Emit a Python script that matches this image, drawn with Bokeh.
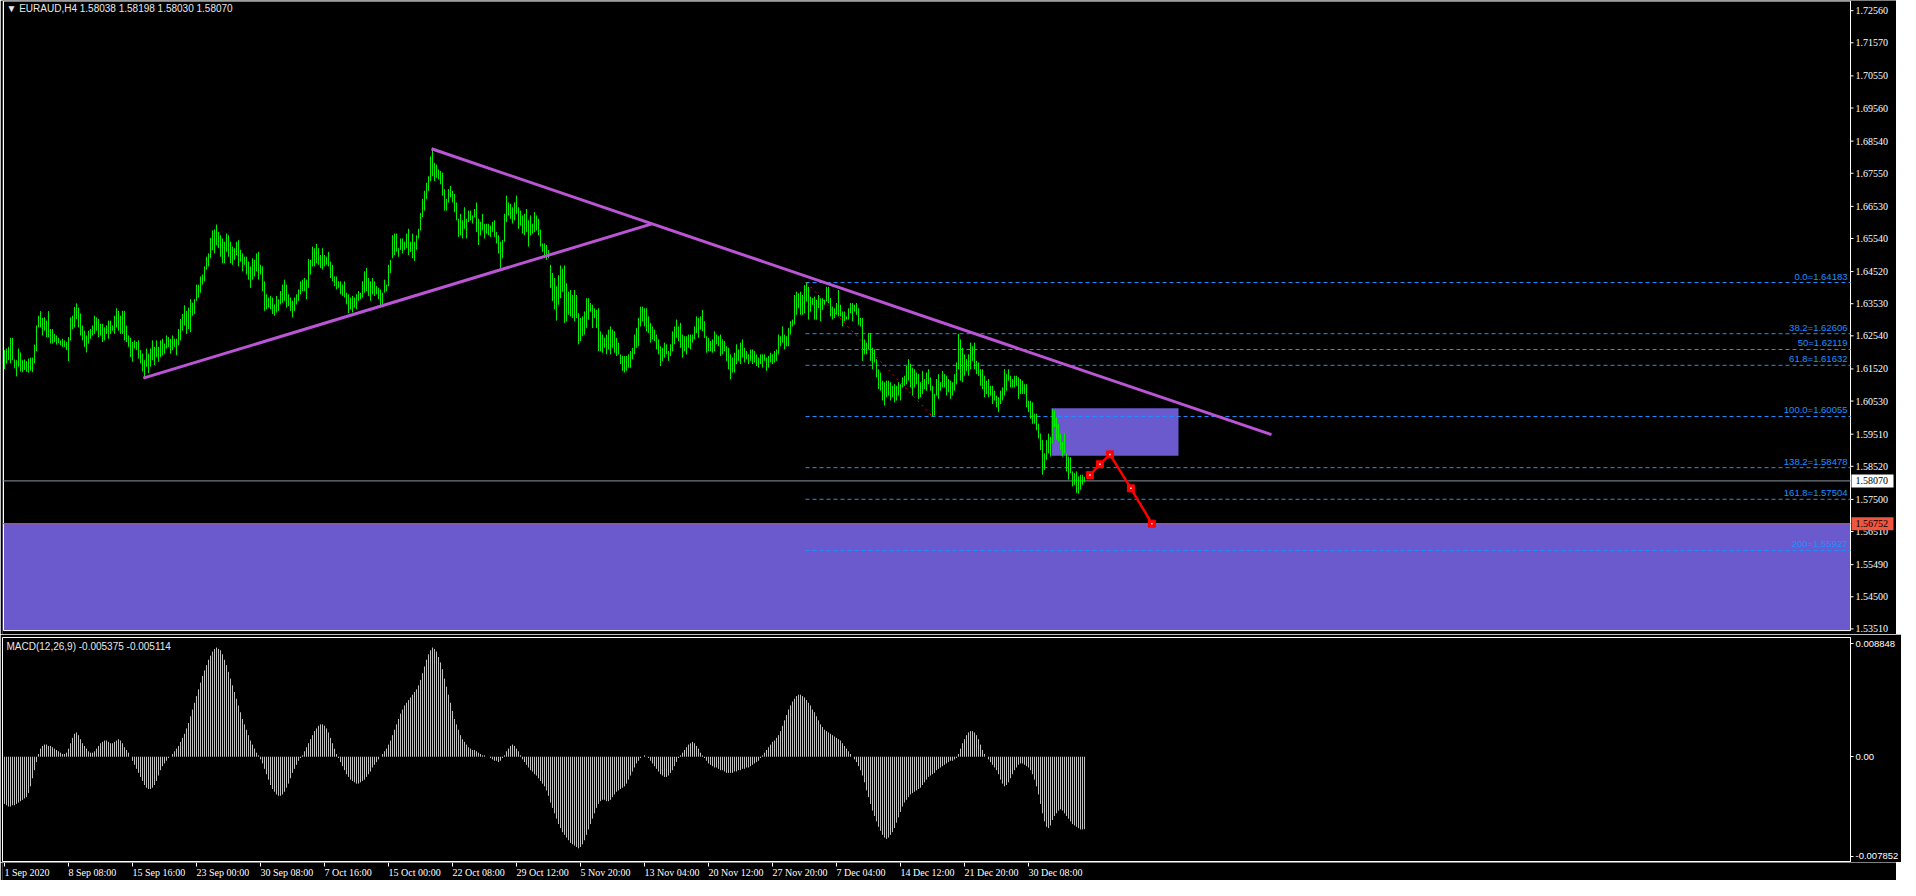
from bokeh.plotting import figure
from bokeh.layouts import column
from bokeh.models import (Range1d, FixedTicker, Label, BoxAnnotation, ColumnDataSource)
from bokeh.embed import file_html
from bokeh.resources import INLINE

# ---------------- data ----------------
symbol_title = "\u25BC EURAUD,H4  1.58038 1.58198 1.58030 1.58070"
macd_title = "MACD(12,26,9) -0.005375 -0.005114"

highs = [
1.6210,1.6215,1.6220,1.6248,1.6248,1.6181,1.6179,1.6215,1.6203,1.6179,
1.6181,1.6176,1.6184,1.6187,1.6187,1.6227,1.6286,1.6316,1.6330,1.6309,
1.6311,1.6301,1.6330,1.6275,1.6275,1.6260,1.6255,1.6248,1.6240,1.6245,
1.6240,1.6235,1.6250,1.6311,1.6316,1.6343,1.6354,1.6341,1.6323,1.6286,
1.6270,1.6255,1.6270,1.6275,1.6286,1.6316,1.6311,1.6306,1.6291,1.6291,
1.6280,1.6286,1.6301,1.6301,1.6286,1.6316,1.6339,1.6331,1.6316,1.6331,
1.6331,1.6286,1.6255,1.6248,1.6235,1.6240,1.6235,1.6240,1.6210,1.6199,
1.6179,1.6215,1.6199,1.6215,1.6240,1.6220,1.6240,1.6220,1.6240,1.6245,
1.6230,1.6255,1.6250,1.6245,1.6255,1.6245,1.6245,1.6275,1.6306,1.6321,
1.6348,1.6331,1.6341,1.6367,1.6356,1.6367,1.6412,1.6412,1.6437,1.6443,
1.6468,1.6498,1.6508,1.6556,1.6579,1.6582,1.6597,1.6574,1.6564,1.6554,
1.6544,1.6569,1.6564,1.6544,1.6529,1.6524,1.6544,1.6549,1.6519,1.6508,
1.6498,1.6498,1.6483,1.6468,1.6493,1.6488,1.6508,1.6513,1.6473,1.6468,
1.6422,1.6382,1.6372,1.6377,1.6372,1.6351,1.6377,1.6367,1.6392,1.6412,
1.6427,1.6412,1.6382,1.6372,1.6362,1.6372,1.6382,1.6397,1.6422,1.6427,
1.6432,1.6427,1.6491,1.6488,1.6529,1.6524,1.6537,1.6524,1.6503,1.6524,
1.6503,1.6498,1.6513,1.6483,1.6473,1.6437,1.6437,1.6422,1.6422,1.6412,
1.6422,1.6387,1.6382,1.6372,1.6377,1.6372,1.6382,1.6392,1.6387,1.6422,
1.6453,1.6463,1.6432,1.6422,1.6432,1.6422,1.6407,1.6402,1.6397,1.6387,
1.6427,1.6412,1.6473,1.6488,1.6564,1.6569,1.6569,1.6524,1.6554,1.6554,
1.6544,1.6569,1.6584,1.6544,1.6569,1.6544,1.6564,1.6584,1.6633,1.6676,
1.6701,1.6726,1.6746,1.6807,1.6830,1.6787,1.6782,1.6767,1.6762,1.6757,
1.6706,1.6676,1.6706,1.6716,1.6701,1.6691,1.6665,1.6615,1.6630,1.6610,
1.6650,1.6615,1.6640,1.6640,1.6625,1.6645,1.6665,1.6615,1.6605,1.6630,
1.6599,1.6599,1.6599,1.6594,1.6605,1.6610,1.6574,1.6564,1.6544,1.6549,
1.6630,1.6686,1.6665,1.6660,1.6650,1.6665,1.6686,1.6650,1.6640,1.6625,
1.6630,1.6645,1.6610,1.6625,1.6599,1.6635,1.6625,1.6615,1.6581,1.6539,
1.6539,1.6534,1.6518,1.6473,1.6448,1.6432,1.6407,1.6441,1.6471,1.6461,
1.6471,1.6416,1.6390,1.6395,1.6380,1.6395,1.6380,1.6324,1.6309,1.6314,
1.6329,1.6370,1.6370,1.6355,1.6350,1.6339,1.6334,1.6339,1.6268,1.6258,
1.6248,1.6258,1.6273,1.6283,1.6273,1.6268,1.6248,1.6233,1.6197,1.6192,
1.6192,1.6192,1.6197,1.6207,1.6217,1.6258,1.6278,1.6309,1.6344,1.6344,
1.6339,1.6339,1.6314,1.6294,1.6283,1.6273,1.6258,1.6243,1.6222,1.6217,
1.6233,1.6228,1.6207,1.6228,1.6268,1.6283,1.6304,1.6283,1.6294,1.6258,
1.6253,1.6253,1.6258,1.6258,1.6258,1.6283,1.6314,1.6309,1.6314,1.6334,
1.6299,1.6253,1.6248,1.6238,1.6243,1.6268,1.6258,1.6253,1.6258,1.6243,
1.6238,1.6222,1.6217,1.6197,1.6187,1.6202,1.6228,1.6212,1.6233,1.6243,
1.6217,1.6207,1.6197,1.6212,1.6212,1.6207,1.6197,1.6187,1.6197,1.6197,
1.6197,1.6187,1.6192,1.6202,1.6197,1.6207,1.6212,1.6258,1.6253,1.6283,
1.6258,1.6253,1.6278,1.6299,1.6304,1.6380,1.6390,1.6385,1.6390,1.6380,
1.6410,1.6418,1.6405,1.6375,1.6370,1.6375,1.6365,1.6380,1.6370,1.6370,
1.6365,1.6405,1.6405,1.6370,1.6344,1.6339,1.6355,1.6395,1.6350,1.6329,
1.6329,1.6314,1.6339,1.6355,1.6355,1.6350,1.6355,1.6339,1.6309,1.6309,
1.6243,1.6233,1.6263,1.6263,1.6217,1.6212,1.6182,1.6151,1.6141,1.6116,
1.6111,1.6116,1.6116,1.6111,1.6100,1.6105,1.6100,1.6111,1.6105,1.6126,
1.6131,1.6161,1.6182,1.6167,1.6156,1.6151,1.6141,1.6136,1.6111,1.6146,
1.6121,1.6141,1.6151,1.6126,1.6100,1.6075,1.6121,1.6136,1.6111,1.6146,
1.6136,1.6131,1.6121,1.6116,1.6111,1.6136,1.6172,1.6260,1.6243,1.6217,
1.6197,1.6182,1.6197,1.6233,1.6222,1.6233,1.6177,1.6172,1.6151,1.6151,
1.6131,1.6116,1.6121,1.6100,1.6100,1.6085,1.6070,1.6065,1.6085,1.6095,
1.6151,1.6136,1.6151,1.6131,1.6121,1.6131,1.6131,1.6126,1.6121,1.6116,
1.6105,1.6105,1.6054,1.6054,1.6049,1.6014,1.6014,1.5983,1.5953,1.5933,
1.5892,1.5933,1.5953,1.5943,1.6029,1.6024,1.6004,1.5983,1.5953,1.5928,
1.5953,1.5892,1.5882,1.5880,1.5836,1.5831,1.5836,1.5821,1.5826,1.5826,
1.58198]

lows = [
1.6152,1.6169,1.6179,1.6169,1.6179,1.6154,1.6129,1.6159,1.6144,1.6142,
1.6149,1.6143,1.6141,1.6147,1.6142,1.6169,1.6207,1.6280,1.6280,1.6255,
1.6270,1.6250,1.6250,1.6230,1.6230,1.6235,1.6227,1.6232,1.6225,1.6220,
1.6220,1.6210,1.6176,1.6240,1.6275,1.6280,1.6306,1.6280,1.6255,1.6240,
1.6220,1.6203,1.6230,1.6245,1.6255,1.6260,1.6270,1.6250,1.6255,1.6235,
1.6240,1.6260,1.6245,1.6260,1.6270,1.6260,1.6280,1.6270,1.6260,1.6260,
1.6240,1.6235,1.6220,1.6189,1.6174,1.6215,1.6210,1.6184,1.6169,1.6144,
1.6123,1.6159,1.6139,1.6159,1.6179,1.6164,1.6189,1.6174,1.6189,1.6194,
1.6199,1.6215,1.6220,1.6199,1.6210,1.6220,1.6194,1.6225,1.6240,1.6270,
1.6286,1.6260,1.6275,1.6265,1.6316,1.6321,1.6362,1.6372,1.6387,1.6412,
1.6422,1.6458,1.6468,1.6493,1.6518,1.6508,1.6534,1.6524,1.6498,1.6478,
1.6478,1.6513,1.6498,1.6478,1.6473,1.6488,1.6503,1.6468,1.6483,1.6453,
1.6473,1.6443,1.6427,1.6402,1.6427,1.6437,1.6453,1.6427,1.6443,1.6392,
1.6331,1.6336,1.6341,1.6336,1.6321,1.6316,1.6326,1.6331,1.6351,1.6356,
1.6362,1.6341,1.6346,1.6331,1.6311,1.6331,1.6351,1.6362,1.6382,1.6392,
1.6392,1.6367,1.6402,1.6443,1.6468,1.6468,1.6478,1.6473,1.6463,1.6458,
1.6468,1.6473,1.6468,1.6432,1.6422,1.6407,1.6397,1.6402,1.6382,1.6377,
1.6372,1.6351,1.6324,1.6336,1.6326,1.6341,1.6336,1.6362,1.6367,1.6372,
1.6387,1.6392,1.6377,1.6362,1.6382,1.6377,1.6382,1.6367,1.6341,1.6351,
1.6387,1.6392,1.6407,1.6448,1.6493,1.6503,1.6513,1.6498,1.6519,1.6508,
1.6519,1.6524,1.6503,1.6513,1.6493,1.6485,1.6519,1.6554,1.6579,1.6620,
1.6640,1.6676,1.6701,1.6731,1.6746,1.6731,1.6741,1.6736,1.6721,1.6686,
1.6640,1.6640,1.6665,1.6681,1.6665,1.6635,1.6610,1.6559,1.6564,1.6554,
1.6584,1.6554,1.6605,1.6610,1.6600,1.6620,1.6574,1.6534,1.6564,1.6579,
1.6554,1.6569,1.6564,1.6559,1.6574,1.6559,1.6539,1.6508,1.6463,1.6493,
1.6544,1.6605,1.6625,1.6615,1.6600,1.6610,1.6630,1.6584,1.6594,1.6569,
1.6564,1.6574,1.6529,1.6564,1.6569,1.6574,1.6579,1.6564,1.6529,1.6513,
1.6493,1.6488,1.6493,1.6402,1.6361,1.6336,1.6301,1.6350,1.6370,1.6390,
1.6294,1.6299,1.6319,1.6314,1.6309,1.6299,1.6309,1.6228,1.6238,1.6253,
1.6258,1.6278,1.6304,1.6329,1.6278,1.6309,1.6278,1.6207,1.6207,1.6202,
1.6217,1.6197,1.6212,1.6197,1.6217,1.6202,1.6192,1.6197,1.6167,1.6146,
1.6141,1.6146,1.6156,1.6156,1.6182,1.6197,1.6217,1.6222,1.6283,1.6299,
1.6283,1.6268,1.6263,1.6233,1.6243,1.6238,1.6212,1.6197,1.6161,1.6177,
1.6187,1.6197,1.6177,1.6192,1.6207,1.6228,1.6248,1.6238,1.6217,1.6187,
1.6207,1.6197,1.6217,1.6212,1.6233,1.6243,1.6263,1.6248,1.6273,1.6268,
1.6248,1.6202,1.6207,1.6207,1.6202,1.6207,1.6228,1.6222,1.6192,1.6197,
1.6207,1.6177,1.6151,1.6120,1.6141,1.6141,1.6167,1.6177,1.6167,1.6187,
1.6172,1.6182,1.6167,1.6177,1.6167,1.6172,1.6161,1.6156,1.6167,1.6156,
1.6177,1.6146,1.6156,1.6172,1.6167,1.6172,1.6177,1.6197,1.6222,1.6233,
1.6212,1.6222,1.6222,1.6258,1.6283,1.6289,1.6319,1.6339,1.6319,1.6319,
1.6324,1.6360,1.6304,1.6329,1.6350,1.6304,1.6304,1.6339,1.6299,1.6334,
1.6350,1.6360,1.6355,1.6314,1.6304,1.6309,1.6319,1.6314,1.6314,1.6283,
1.6299,1.6304,1.6304,1.6324,1.6299,1.6329,1.6319,1.6288,1.6283,1.6177,
1.6197,1.6197,1.6212,1.6177,1.6151,1.6172,1.6126,1.6090,1.6085,1.6055,
1.6039,1.6065,1.6070,1.6055,1.6065,1.6049,1.6055,1.6070,1.6055,1.6095,
1.6100,1.6105,1.6116,1.6095,1.6070,1.6095,1.6105,1.6060,1.6065,1.6075,
1.6090,1.6085,1.6105,1.6085,1.6006,1.6009,1.6070,1.6060,1.6085,1.6095,
1.6095,1.6070,1.6080,1.6060,1.6070,1.6085,1.6105,1.6151,1.6116,1.6111,
1.6131,1.6146,1.6131,1.6151,1.6177,1.6151,1.6136,1.6131,1.6100,1.6090,
1.6065,1.6075,1.6065,1.6070,1.6044,1.6055,1.6034,1.6019,1.6044,1.6055,
1.6070,1.6085,1.6116,1.6095,1.6095,1.6095,1.6100,1.6060,1.6075,1.6075,
1.6075,1.6034,1.6019,1.5999,1.5983,1.5983,1.5963,1.5938,1.5902,1.5826,
1.5841,1.5872,1.5892,1.5882,1.5923,1.5973,1.5933,1.5928,1.5902,1.5882,
1.5892,1.5836,1.5811,1.5831,1.5790,1.5795,1.5770,1.5768,1.5780,1.5795,
1.58030]

macd_main = [
-0.0035,-0.0036,-0.0037,-0.0037,-0.0036,-0.0036,-0.0035,-0.0034,-0.0033,-0.0032,
-0.0031,-0.0030,-0.0027,-0.0022,-0.0016,-0.0010,-0.0004,0.0002,0.0006,0.0008,
0.0009,0.0009,0.0008,0.0008,0.0007,0.0006,0.0005,0.0004,0.0003,0.0002,
0.0002,0.0003,0.0006,0.0010,0.0014,0.0017,0.0018,0.0016,0.0013,0.0010,
0.0008,0.0006,0.0004,0.0003,0.0003,0.0004,0.0006,0.0008,0.0010,0.0011,
0.0012,0.0012,0.0011,0.0010,0.0010,0.0011,0.0012,0.0013,0.0012,0.0010,
0.0007,0.0005,0.0003,0.0000,-0.0003,-0.0006,-0.0009,-0.0012,-0.0015,-0.0018,
-0.0021,-0.0023,-0.0024,-0.0024,-0.0023,-0.0021,-0.0018,-0.0014,-0.0010,-0.0007,
-0.0005,-0.0003,-0.0001,0.0000,0.0002,0.0004,0.0006,0.0008,0.0011,0.0014,
0.0017,0.0021,0.0025,0.0030,0.0035,0.0040,0.0045,0.0050,0.0055,0.0060,
0.0064,0.0068,0.0072,0.0075,0.0078,0.0080,0.0081,0.0080,0.0079,0.0076,
0.0072,0.0068,0.0063,0.0058,0.0053,0.0048,0.0043,0.0038,0.0033,0.0028,
0.0024,0.0020,0.0016,0.0012,0.0009,0.0006,0.0003,0.0001,-0.0002,-0.0005,
-0.0009,-0.0013,-0.0017,-0.0021,-0.0024,-0.0026,-0.0028,-0.0029,-0.0029,-0.0028,
-0.0026,-0.0023,-0.0020,-0.0016,-0.0012,-0.0009,-0.0006,-0.0003,-0.0001,0.0001,
0.0004,0.0007,0.0010,0.0013,0.0016,0.0019,0.0021,0.0023,0.0024,0.0024,
0.0023,0.0021,0.0018,0.0014,0.0010,0.0006,0.0002,-0.0001,-0.0004,-0.0007,
-0.0010,-0.0013,-0.0015,-0.0017,-0.0018,-0.0019,-0.0020,-0.0020,-0.0019,-0.0018,
-0.0017,-0.0015,-0.0013,-0.0011,-0.0008,-0.0006,-0.0004,-0.0002,0.0000,0.0002,
0.0004,0.0006,0.0009,0.0012,0.0016,0.0020,0.0024,0.0028,0.0032,0.0035,
0.0038,0.0040,0.0042,0.0044,0.0046,0.0048,0.0050,0.0053,0.0057,0.0062,
0.0067,0.0072,0.0076,0.0079,0.0081,0.0080,0.0078,0.0074,0.0070,0.0065,
0.0058,0.0052,0.0046,0.0040,0.0034,0.0028,0.0024,0.0020,0.0016,0.0013,
0.0011,0.0009,0.0007,0.0006,0.0005,0.0005,0.0004,0.0003,0.0002,0.0001,
0.0001,0.0000,0.0000,-0.0001,-0.0002,-0.0003,-0.0003,-0.0004,-0.0003,-0.0001,
0.0001,0.0004,0.0006,0.0008,0.0009,0.0008,0.0006,0.0004,0.0001,-0.0002,
-0.0004,-0.0006,-0.0008,-0.0010,-0.0011,-0.0013,-0.0014,-0.0016,-0.0018,-0.0020,
-0.0022,-0.0025,-0.0029,-0.0034,-0.0038,-0.0042,-0.0046,-0.0050,-0.0053,-0.0056,
-0.0058,-0.0060,-0.0062,-0.0064,-0.0065,-0.0066,-0.0067,-0.0068,-0.0067,-0.0065,
-0.0062,-0.0058,-0.0054,-0.0050,-0.0046,-0.0042,-0.0038,-0.0035,-0.0033,-0.0032,
-0.0032,-0.0033,-0.0033,-0.0032,-0.0030,-0.0028,-0.0026,-0.0025,-0.0024,-0.0023,
-0.0022,-0.0020,-0.0017,-0.0014,-0.0011,-0.0008,-0.0005,-0.0003,-0.0001,0.0000,
0.0001,0.0000,-0.0001,-0.0003,-0.0005,-0.0007,-0.0009,-0.0011,-0.0013,-0.0014,
-0.0015,-0.0015,-0.0014,-0.0012,-0.0010,-0.0007,-0.0004,-0.0001,0.0001,0.0003,
0.0005,0.0007,0.0009,0.0010,0.0011,0.0010,0.0008,0.0006,0.0003,0.0001,
-0.0001,-0.0003,-0.0005,-0.0006,-0.0007,-0.0008,-0.0008,-0.0009,-0.0010,-0.0010,
-0.0011,-0.0012,-0.0012,-0.0012,-0.0012,-0.0011,-0.0011,-0.0010,-0.0010,-0.0009,
-0.0009,-0.0008,-0.0008,-0.0007,-0.0006,-0.0005,-0.0004,-0.0003,-0.0001,0.0001,
0.0003,0.0005,0.0007,0.0009,0.0011,0.0012,0.0014,0.0016,0.0019,0.0023,
0.0027,0.0031,0.0035,0.0038,0.0041,0.0043,0.0045,0.0046,0.0046,0.0045,
0.0044,0.0042,0.0040,0.0038,0.0035,0.0033,0.0030,0.0027,0.0024,0.0022,
0.0020,0.0019,0.0018,0.0017,0.0016,0.0015,0.0014,0.0013,0.0012,0.0010,
0.0008,0.0006,0.0004,0.0002,0.0000,-0.0002,-0.0004,-0.0007,-0.0010,-0.0014,
-0.0019,-0.0025,-0.0030,-0.0035,-0.0040,-0.0044,-0.0048,-0.0052,-0.0055,-0.0058,
-0.0060,-0.0061,-0.0060,-0.0058,-0.0056,-0.0053,-0.0049,-0.0045,-0.0041,-0.0037,
-0.0034,-0.0032,-0.0030,-0.0028,-0.0027,-0.0026,-0.0025,-0.0024,-0.0023,-0.0021,
-0.0019,-0.0017,-0.0015,-0.0014,-0.0013,-0.0012,-0.0010,-0.0009,-0.0008,-0.0007,
-0.0006,-0.0005,-0.0004,-0.0003,-0.0003,-0.0002,-0.0001,0.0002,0.0006,0.0010,
0.0013,0.0016,0.0018,0.0019,0.0019,0.0018,0.0016,0.0013,0.0009,0.0005,
0.0002,0.0000,-0.0002,-0.0004,-0.0006,-0.0008,-0.0010,-0.0013,-0.0017,-0.0020,
-0.0022,-0.0021,-0.0019,-0.0016,-0.0013,-0.0010,-0.0008,-0.0006,-0.0005,-0.0005,
-0.0006,-0.0007,-0.0008,-0.0010,-0.0013,-0.0017,-0.0022,-0.0028,-0.0035,-0.0042,
-0.0048,-0.0052,-0.0053,-0.0051,-0.0047,-0.0044,-0.0042,-0.0040,-0.0039,-0.0040,
-0.0042,-0.0044,-0.0046,-0.0048,-0.0050,-0.0051,-0.0052,-0.0053,-0.0054,-0.0054,
-0.005375]

price_ticks = [1.72560, 1.71570, 1.70550, 1.69560, 1.68540, 1.67550, 1.66530, 1.65540,
               1.64520, 1.63530, 1.62540, 1.61520, 1.60530, 1.59510, 1.58520, 1.57500,
               1.56510, 1.55490, 1.54500, 1.53510]
macd_ticks = [0.0084, 0.0, -0.0074]
macd_tick_labels = ["0.008848", "0.00", "-0.007852"]
date_ticks = [0, 32, 64, 96, 128, 160, 192, 224, 256, 288, 320, 352, 384, 416, 448, 480, 512]
date_labels = ["1 Sep 2020", "8 Sep 08:00", "15 Sep 16:00", "23 Sep 00:00", "30 Sep 08:00",
               "7 Oct 16:00", "15 Oct 00:00", "22 Oct 08:00", "29 Oct 12:00", "5 Nov 20:00",
               "13 Nov 04:00", "20 Nov 12:00", "27 Nov 20:00", "7 Dec 04:00", "14 Dec 12:00",
               "21 Dec 20:00", "30 Dec 08:00"]

fib_ratios = ["0.0", "38.2", "50", "61.8", "100.0", "138.2", "161.8", "200"]
fib_levels = [1.64183, 1.62606, 1.62119, 1.61632, 1.60055, 1.58478, 1.57504, 1.55927]
fib_start_bar = 400.5
fib_base_x = [401, 464]
fib_base_y = [1.64183, 1.60055]

trend_up_x = [69.4, 323.7]
trend_up_y = [1.61235, 1.65991]
trend_down_x = [213.5, 633.5]
trend_down_y = [1.68305, 1.59494]

zone_box = dict(left=523.5, right=587.0, bottom=1.58844, top=1.60308)
support_top = 1.56752
last_price = 1.58070

proj_x = [542.7, 547.7, 552.7, 563.2, 573.7]
proj_y = [1.58248, 1.58582, 1.58887, 1.57841, 1.56752]

# ---------------- layout / styling ----------------
FONT = "Liberation Sans"
FW = 1848            # chart area width in px (2 px per bar)
AW = 46              # price-axis strip width in px
PH = 634
MH = 225
DH = 18
X0 = -1.0
AXIS_X = X0 + FW / 2.0          # right edge of chart area (bar units)
P_TOP, P_BOT, P_FRAME_BOT = 1.72873, 1.53458, 1.53337
GREEN = "#00ee00"
VIOLET = "#bb55d6"
SLATE = "#6a5acd"
FIBC = "#1e90ff"
TOMATO = "#f0553f"

idx = list(range(len(highs)))

# ---------------- price panel ----------------
p = figure(frame_width=FW + AW, frame_height=PH,
           x_range=Range1d(X0, X0 + (FW + AW) / 2.0),
           y_range=Range1d(P_FRAME_BOT, P_TOP),
           output_backend="svg", toolbar_location=None,
           x_axis_location=None, y_axis_location=None,
           background_fill_color="black", border_fill_color="black",
           min_border_left=2, min_border_right=0, min_border_top=0, min_border_bottom=0)
p.outline_line_color = None
p.grid.visible = False

# zones (behind bars)
p.add_layout(BoxAnnotation(top=support_top, bottom=P_BOT, right=AXIS_X, fill_color=SLATE,
                           fill_alpha=1.0, line_color=None, level="underlay"))
p.add_layout(BoxAnnotation(fill_color=SLATE, fill_alpha=1.0, line_color=None,
                           level="underlay", **zone_box))

# frame lines and price axis
half_px = 0.5 * (P_TOP - P_FRAME_BOT) / PH
p.segment(x0=[X0 + 0.5, X0 + 0.5, X0 + 0.5, AXIS_X],
          y0=[P_BOT, P_TOP - half_px, P_BOT, P_BOT],
          x1=[X0 + 0.5, AXIS_X, AXIS_X, AXIS_X],
          y1=[P_TOP - half_px, P_TOP - half_px, P_BOT, P_TOP - half_px],
          line_color="white", line_width=1)
p.segment(x0=AXIS_X, y0=price_ticks, x1=AXIS_X + 1.5, y1=price_ticks,
          line_color="white", line_width=1)
p.text(x=AXIS_X + 2.5, y=price_ticks, text=[f"{t:.5f}" for t in price_ticks],
       text_color="white", text_font="Liberation Sans", text_font_size="10px",
       text_baseline="middle", text_align="left")

# fib levels
for r, lv in zip(fib_ratios, fib_levels):
    p.segment(x0=fib_start_bar, y0=lv, x1=AXIS_X, y1=lv, line_color=FIBC,
              line_width=1, line_dash="4 3")
    p.add_layout(Label(x=AXIS_X, y=lv, text=f"{r}={lv:.5f}", x_offset=-3, y_offset=1,
                       text_align="right", text_baseline="bottom", text_color=FIBC,
                       text_font=FONT, text_font_size="9.5px"))
p.line(fib_base_x, fib_base_y, line_color="red", line_width=1, line_dash="2 4")

# horizontal price lines
p.segment(x0=X0, y0=last_price, x1=AXIS_X, y1=last_price, line_color="#8c96a0", line_width=1)
p.segment(x0=X0, y0=support_top, x1=AXIS_X, y1=support_top, line_color=TOMATO, line_width=1)

# price bars
src = ColumnDataSource(dict(x=idx, hi=highs, lo=lows))
p.segment(x0="x", y0="lo", x1="x", y1="hi", source=src, line_color=GREEN, line_width=1)

# trend lines
p.line(trend_up_x, trend_up_y, line_color=VIOLET, line_width=3)
p.line(trend_down_x, trend_down_y, line_color=VIOLET, line_width=3)

# projection
p.line(proj_x, proj_y, line_color="red", line_width=2.5)
p.scatter(proj_x, proj_y, marker="square", size=7, fill_color="red", line_color="red")
p.scatter(proj_x, proj_y, marker="square", size=1.5, fill_color="white", line_color=None)

# price tags on the axis
for val, bg in [(last_price, "white"), (support_top, TOMATO)]:
    p.rect(x=AXIS_X + 0.5 + 10.5, y=val, width=42, height=13, width_units="screen",
           height_units="screen", fill_color=bg, line_color=None)
    p.text(x=AXIS_X + 2.5, y=val, text=[f"{val:.5f}"], text_color="black",
           text_font="Liberation Sans", text_font_size="10px",
           text_baseline="middle", text_align="left")

p.add_layout(Label(x=4, y=PH - 8, x_units="screen", y_units="screen", text=symbol_title,
                   text_color="#e8e8e8", text_font=FONT, text_font_size="10px",
                   text_baseline="middle"))

# ---------------- MACD panel ----------------
XRM = Range1d(X0, AXIS_X)
m = figure(frame_width=FW, frame_height=MH, x_range=XRM,
           y_range=Range1d(-0.007852, 0.008848),
           output_backend="svg", toolbar_location=None,
           y_axis_location="right", x_axis_location=None,
           background_fill_color="black", border_fill_color="black",
           min_border_left=2, min_border_right=0, min_border_top=3, min_border_bottom=0)
m.outline_line_color = "white"
m.grid.visible = False

msrc = ColumnDataSource(dict(x=idx, v=macd_main))
m.segment(x0="x", y0=0, x1="x", y1="v", source=msrc, line_color="#c0c0c0", line_width=1)

my = m.yaxis[0]
my.ticker = FixedTicker(ticks=macd_ticks)
my.major_label_overrides = {t: s for t, s in zip(macd_ticks, macd_tick_labels)}
my.axis_line_color = "white"
my.major_tick_line_color = "white"
my.minor_tick_line_color = None
my.major_tick_out = 3
my.major_tick_in = 0
my.major_label_standoff = 2
my.major_label_text_color = "white"
my.major_label_text_font = FONT
my.major_label_text_font_size = "9.5px"

m.add_layout(Label(x=4, y=MH - 9, x_units="screen", y_units="screen", text=macd_title,
                   text_color="#e8e8e8", text_font=FONT, text_font_size="10px",
                   text_baseline="middle"))

# ---------------- date strip ----------------
d = figure(frame_width=FW + AW, frame_height=DH,
           x_range=Range1d(X0, X0 + (FW + AW) / 2.0), y_range=Range1d(0, DH),
           output_backend="svg", toolbar_location=None,
           x_axis_location=None, y_axis_location=None,
           background_fill_color="black", border_fill_color="black",
           min_border_left=2, min_border_right=0, min_border_top=0, min_border_bottom=0)
d.outline_line_color = None
d.grid.visible = False
d.segment(x0=date_ticks, y0=DH, x1=date_ticks, y1=DH - 4, line_color="white", line_width=1)
d.text(x=date_ticks, y=DH - 10, text=date_labels, text_color="white",
       text_font="Liberation Sans", text_font_size="10px",
       text_baseline="middle", text_align="left")

layout = column(p, m, d)
html = file_html(layout, INLINE)
html = html.replace("<body>", "<body style=\"background-color:#000000\">", 1)
open("out.html", "w").write(html)
